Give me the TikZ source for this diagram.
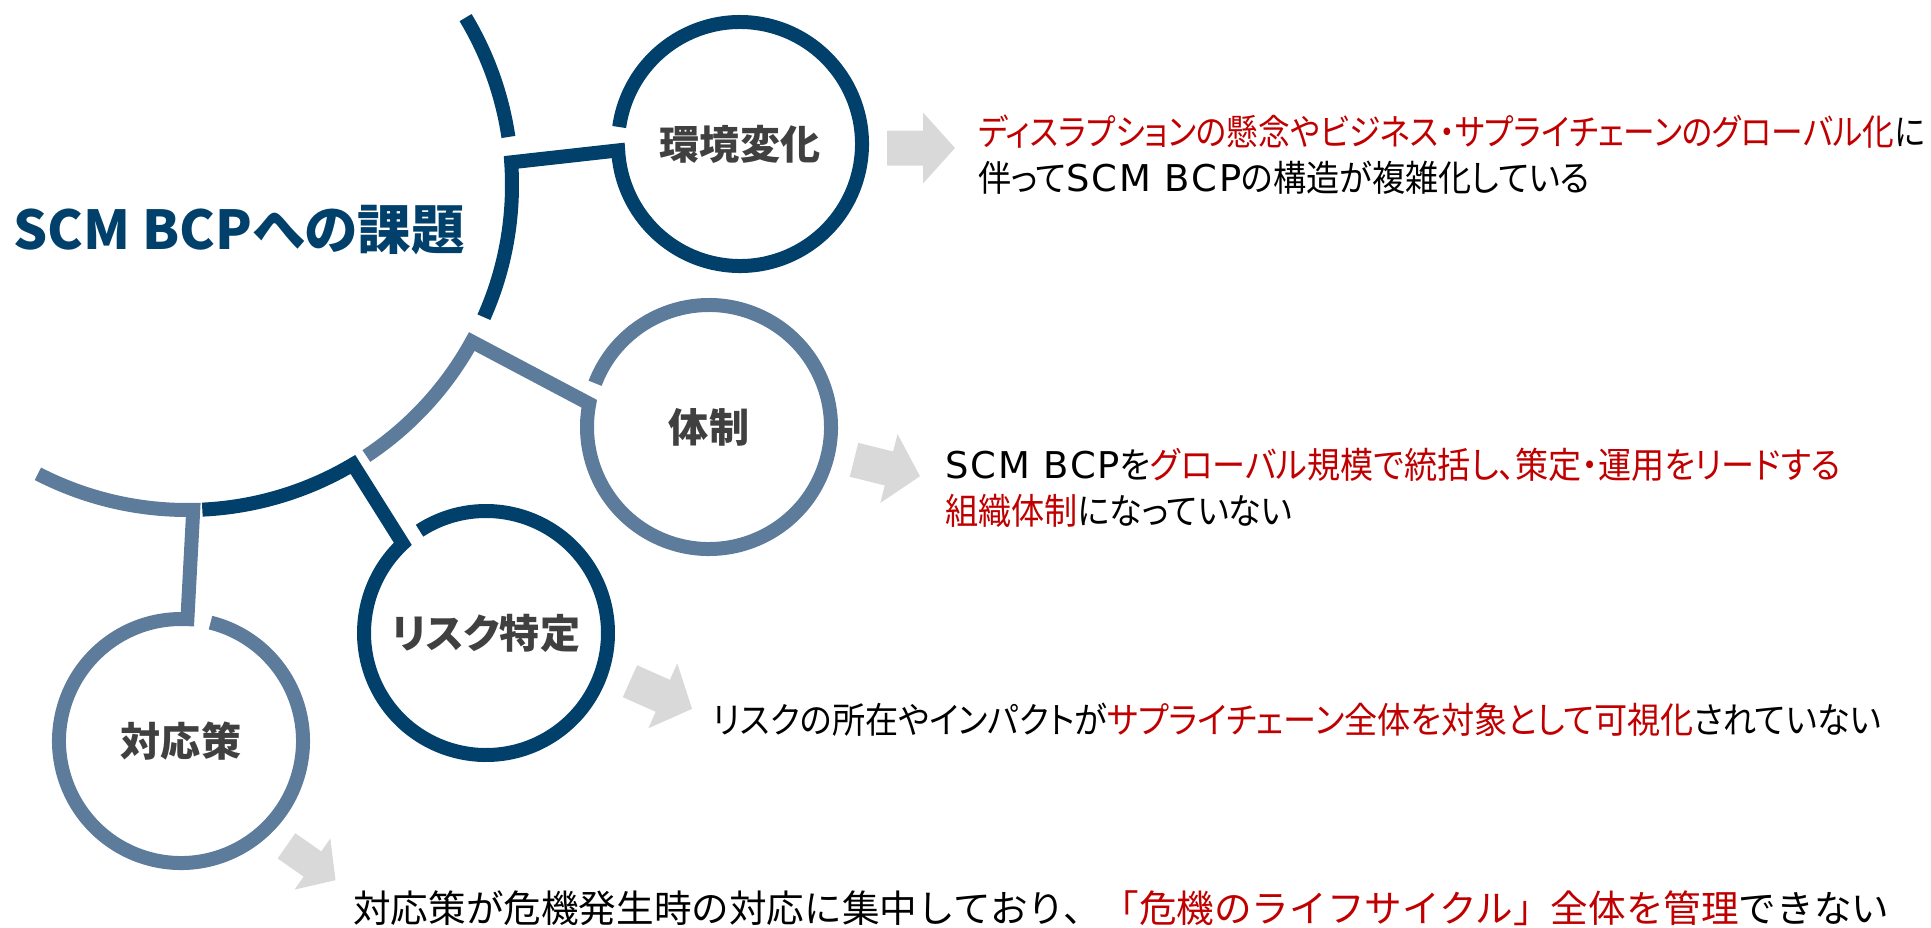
\documentclass[tikz,border=0pt]{standalone}
\usepackage{fontspec}
\usepackage{tikz}
\newfontfamily\jpfont[RawFeature=+palt]{Noto Sans CJK JP}
\newfontfamily\jpbody[RawFeature=+palt, FakeStretch=0.92]{Noto Sans CJK JP}
\newfontfamily\jpnarrow[RawFeature=+palt, FakeStretch=0.88]{Noto Sans CJK JP}
\newfontfamily\jpwide{Noto Sans CJK JP}
\newfontfamily\latfont[LetterSpace=5]{DejaVu Sans}
\definecolor{scmdark}{RGB}{0,64,106}
\definecolor{scmlight}{RGB}{93,123,155}
\definecolor{scmred}{RGB}{192,0,0}
\definecolor{scmgray}{RGB}{64,64,64}
\definecolor{arrowgray}{RGB}{217,217,217}
\tikzstyle{darkline} = [draw=scmdark, line width=0.28cm]
\tikzstyle{lightline} = [draw=scmlight, line width=0.28cm]
\tikzstyle{ring} = [circle, minimum size=4.9cm, inner sep=0pt,
font=\jpfont\bfseries\fontsize{22.8pt}{26pt}\selectfont, text=scmgray]
\tikzstyle{bodytext} = [anchor=base west, inner sep=0pt,
font=\jpbody\fontsize{20.5pt}{26pt}\selectfont]
\tikzstyle{grayarrow} = [fill=arrowgray]
\newcommand{\scmbcp}{{\latfont\fontsize{21pt}{26pt}\selectfont SCM BCP}}
\newcommand{\red}[1]{\textcolor{scmred}{#1}}
\newcommand{\grayarrow}[3]{\fill [grayarrow, shift={(#1)}, rotate=#2, scale=#3]
(-34,-17.5) -- (2,-17.5) -- (2,-35.5) -- (34,0) -- (2,35.5) -- (2,17.5)
-- (-34,17.5) -- cycle;}

\begin{document}
\begin{tikzpicture}[x=0.02cm, y=-0.02cm]
\useasboundingbox (0,0) rectangle (1931,927);

\coordinate (hub) at (187,185);
\node (title) [anchor=west, inner sep=0pt, text=scmdark,
font=\jpfont\bfseries\fontsize{30.5pt}{36pt}\selectfont] at (13,230)
{SCM BCPへの課題};

\node (env) [ring] at (740,144) {\raisebox{-0.17cm}{環境変化}};
\node (sys) [ring] at (709,427) {\raisebox{-0.12cm}{体制}};
\node (risk) [ring] at (486,633) {\raisebox{-0.04cm}{リスク特定}};
\node (resp) [ring] at (181,741) {\raisebox{-0.2cm}{対応策}};

% rings, connectors and the arcs of the hub
\draw [darkline] ([shift={(-31:325)}]hub) arc[start angle=-31, end angle=-8.5, radius=325];
\draw [darkline] ([shift={(188:122)}]env.center) arc[start angle=188, end angle=537, radius=122]
-- ([shift={(-4:325)}]hub) arc[start angle=-4, end angle=24, radius=325];
\draw [lightline] ([shift={(201:122)}]sys.center) arc[start angle=201, end angle=551, radius=122]
-- ([shift={(28.8:325)}]hub) arc[start angle=28.8, end angle=56.5, radius=325];
\draw [darkline] ([shift={(237:122)}]risk.center) arc[start angle=237, end angle=587, radius=122]
-- ([shift={(59.3:325)}]hub) arc[start angle=59.3, end angle=87.3, radius=325];
\draw [lightline] ([shift={(284:122)}]resp.center) arc[start angle=284, end angle=633, radius=122]
-- ([shift={(88.9:325)}]hub) arc[start angle=88.9, end angle=117.3, radius=325];

\grayarrow{921,148}{0}{1}
\grayarrow{887,468}{-14}{1}
\grayarrow{661,695}{-24}{1}
\grayarrow{311,863}{-35}{0.88}

\node (txt1a) [bodytext, font=\jpnarrow\fontsize{20.5pt}{26pt}\selectfont] at (978,145)
{\red{ディスラプションの懸念やビジネス・サプライチェーンのグローバル化}に};
\node (txt1b) [bodytext] at (978,191) {伴って\scmbcp の構造が複雑化している};
\node (txt2a) [bodytext] at (945,478)
{\scmbcp を\red{グローバル規模で統括し、策定・運用をリードする}};
\node (txt2b) [bodytext] at (945,524) {\red{組織体制}になっていない};
\node (txt3) [bodytext] at (713,733)
{リスクの所在やインパクトが\red{サプライチェーン全体を対象として可視化}されていない};
\node (txt4) [bodytext, font=\jpwide\fontsize{21.4pt}{26pt}\selectfont] at (353,922)
{対応策が危機発生時の対応に集中しており、\red{「危機のライフサイクル」全体を管理}できない};

\end{tikzpicture}
\end{document}
